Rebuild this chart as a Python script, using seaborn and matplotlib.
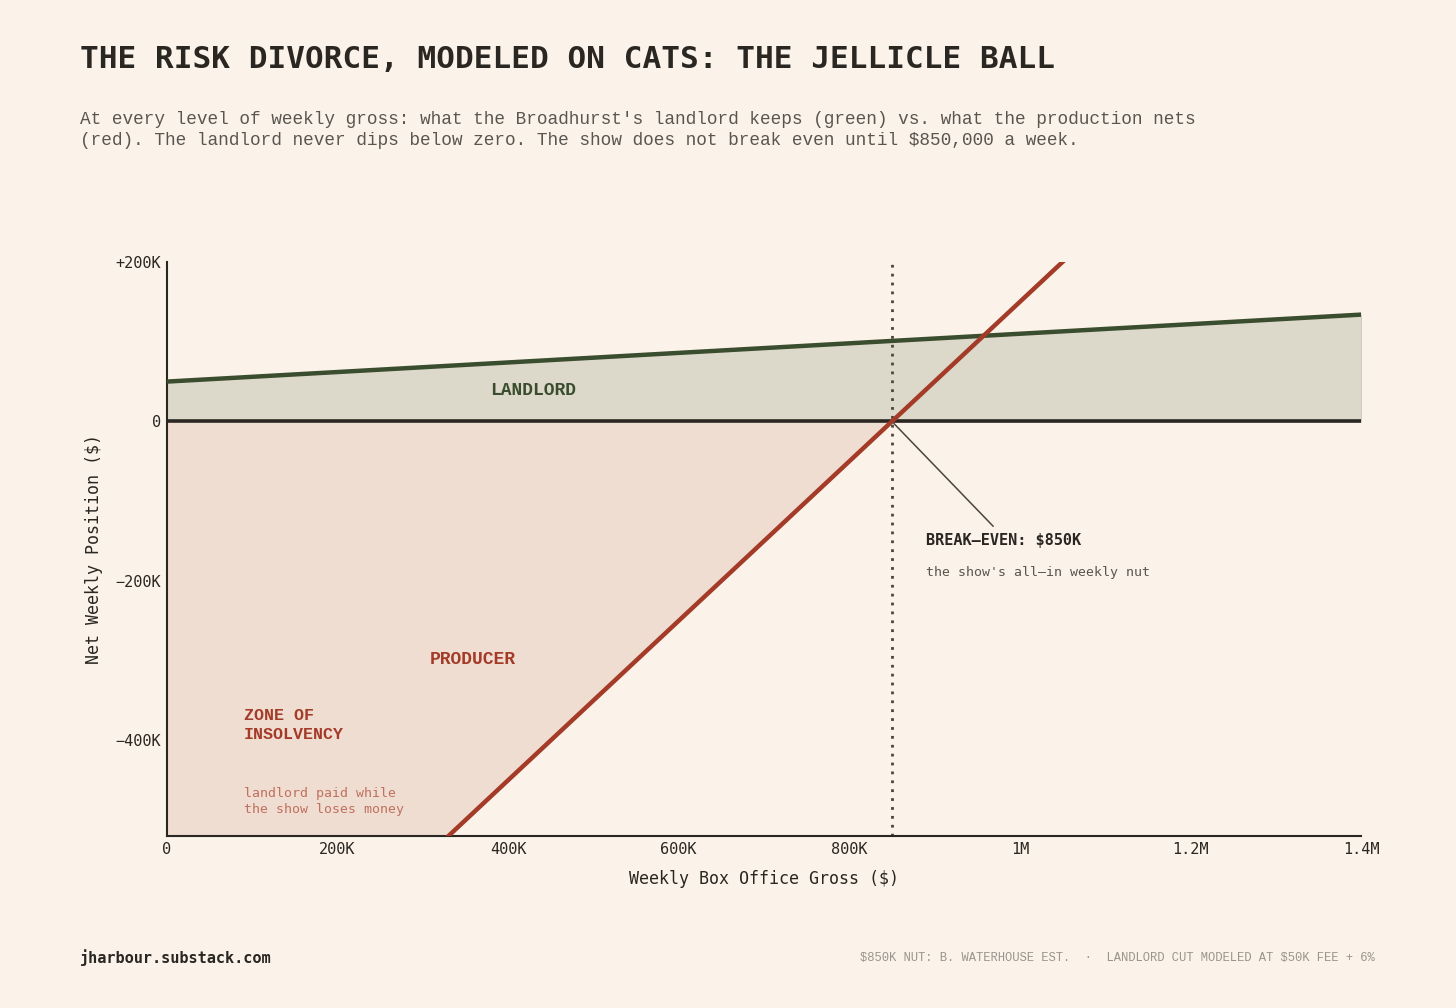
import matplotlib
matplotlib.use("Agg")
import matplotlib.pyplot as plt
import seaborn as sns
import numpy as np
import pandas as pd

# ---- data ----
gross = [0, 100000, 200000, 300000, 400000, 500000, 600000, 700000,
         800000, 850000, 900000, 1000000, 1100000, 1200000, 1300000, 1400000]
landlord = [50000, 56000, 62000, 68000, 74000, 80000, 86000, 92000,
            98000, 101000, 104000, 110000, 116000, 122000, 128000, 134000]
producer = [-850000, -750000, -650000, -550000, -450000, -350000, -250000, -150000,
            -50000, 0, 50000, 150000, 250000, 350000, 450000, 550000]
x_ticks = [0, 200000, 400000, 600000, 800000, 1000000, 1200000, 1400000]
x_tick_labels = ["0", "200K", "400K", "600K", "800K", "1M", "1.2M", "1.4M"]
y_ticks = [200000, 0, -200000, -400000]
y_tick_labels = ["+200K", "0", "\u2212200K", "\u2212400K"]
break_even = 850000

df = pd.DataFrame({"gross": gross, "landlord": landlord, "producer": producer})

BG = "#FBF3E9"
DARK = "#2A2622"
GREEN = "#3A4D2E"
GREEN_FILL = "#DDD9CA"
RED = "#A33B28"
RED_FILL = "#F0DDD2"
GRAY = "#5A5550"

sns.set_theme(style="white", rc={"figure.facecolor": BG, "axes.facecolor": BG,
                                 "savefig.facecolor": BG})
plt.rcParams["font.family"] = ["Liberation Mono", "DejaVu Sans Mono", "DejaVu Sans"]

fig = plt.figure(figsize=(14.56, 10.08), dpi=100)
ax = fig.add_axes([167 / 1456, 1 - 836 / 1008, (1361 - 167) / 1456, (836 - 262) / 1008])

g = np.array(gross, dtype=float)
p = np.array(producer, dtype=float)
ll = np.array(landlord, dtype=float)

ax.fill_between(g, 0, ll, color=GREEN_FILL, linewidth=0.8, edgecolor="#CFCBBD", zorder=1)
ax.fill_between(g, p, 0, where=p <= 0, interpolate=True, color=RED_FILL, linewidth=0, zorder=1)

sns.lineplot(data=df, x="gross", y="landlord", ax=ax, color=GREEN, linewidth=3.2, zorder=4)
sns.lineplot(data=df, x="gross", y="producer", ax=ax, color=RED, linewidth=3.2, zorder=5)

ax.axhline(0, color=DARK, linewidth=2.6, zorder=3)
ax.axvline(break_even, color="#4A463C", linewidth=2.0, linestyle=(0, (1, 2.2)), zorder=2)

ax.set_xlim(0, 1400000)
ax.set_ylim(-520000, 200000)
ax.set_xticks(x_ticks)
ax.set_xticklabels(x_tick_labels, fontsize=11, color=DARK, family="DejaVu Sans Mono")
ax.set_yticks(y_ticks)
ax.set_yticklabels(y_tick_labels, fontsize=11, color=DARK, family="DejaVu Sans Mono")
ax.tick_params(axis="both", length=0, pad=4)
for s in ["top", "right"]:
    ax.spines[s].set_visible(False)
for s in ["left", "bottom"]:
    ax.spines[s].set_color(DARK)
    ax.spines[s].set_linewidth(1.5)
ax.set_xlabel("Weekly Box Office Gross ($)", fontsize=12, color=DARK, labelpad=10,
              family="DejaVu Sans Mono")
ax.set_ylabel("Net Weekly Position ($)", fontsize=12, color=DARK, labelpad=9,
              family="DejaVu Sans Mono")

# annotations
ax.text(429000, 39000, "LANDLORD", color=GREEN, fontsize=13, fontweight="bold",
        ha="center", va="center", zorder=6)
ax.text(359000, -299000, "PRODUCER", color=RED, fontsize=13, fontweight="bold",
        ha="center", va="center", zorder=6)
ax.text(90000, -381000, "ZONE OF\nINSOLVENCY", color=RED, fontsize=12, fontweight="bold",
        ha="left", va="center", linespacing=1.3, zorder=6)
ax.text(90000, -477000, "landlord paid while\nthe show loses money", color="#C0705E",
        fontsize=9.5, ha="left", va="center", linespacing=1.3, zorder=6,
        family="DejaVu Sans Mono")
ax.annotate("", xy=(break_even, 0), xytext=(971000, -134000),
            arrowprops=dict(arrowstyle="-", color="#4A463C", lw=1.1), zorder=6)
ax.text(890000, -149000, "BREAK\u2013EVEN: \\$850K", color=DARK, fontsize=11, fontweight="bold",
        ha="left", va="center", zorder=6, family="DejaVu Sans Mono")
ax.text(890000, -189000, "the show's all\u2013in weekly nut", color=GRAY, fontsize=9.5,
        ha="left", va="center", zorder=6, family="DejaVu Sans Mono")

# titles and footer
fig.text(80 / 1456, 1 - 60 / 1008, "THE RISK DIVORCE, MODELED ON CATS: THE JELLICLE BALL",
         fontsize=22.4, color=DARK, ha="left", va="center", fontweight="bold",
         family="DejaVu Sans Mono")
fig.text(80 / 1456, 1 - 130 / 1008,
         "At every level of weekly gross: what the Broadhurst's landlord keeps (green) vs. what the production nets\n"
         "(red). The landlord never dips below zero. The show does not break even until \\$850,000 a week.",
         fontsize=12.8, color=GRAY, ha="left", va="center", linespacing=1.3)
fig.text(80 / 1456, 1 - 958 / 1008, "jharbour.substack.com", fontsize=11, color=DARK,
         fontweight="bold", ha="left", va="center", family="DejaVu Sans Mono")
fig.text(1375 / 1456, 1 - 958 / 1008,
         "\\$850K NUT: B. WATERHOUSE EST.  \u00b7  LANDLORD CUT MODELED AT \\$50K FEE + 6%",
         fontsize=8.7, color="#9A948C", ha="right", va="center")

fig.savefig("out.png", dpi=100, facecolor=BG)
